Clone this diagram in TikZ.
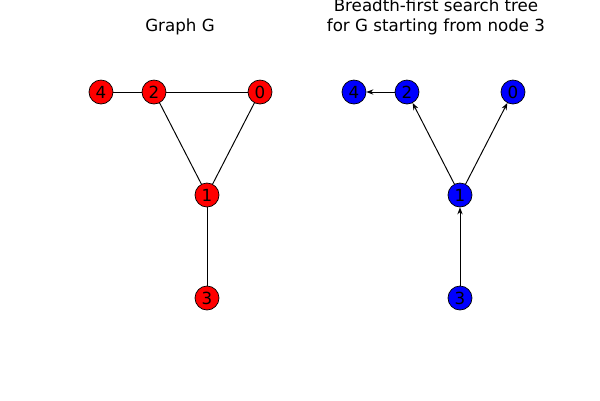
\documentclass[tikz,border=0pt]{standalone}
\usepackage{fontspec}
\setmainfont{DejaVu Sans}
\usetikzlibrary{arrows.meta}
\begin{document}
\begin{tikzpicture}[x=.02cm,y=-.02cm,
  vred/.style={circle,draw,fill=red,minimum size=.48cm,inner sep=0pt,font=\fontsize{9.5}{11}\selectfont},
  vblue/.style={circle,draw,fill=blue,minimum size=.48cm,inner sep=0pt,font=\fontsize{9.5}{11}\selectfont},
  edge/.style={draw,line width=.55pt},
  tedge/.style={draw,line width=.55pt,-{Stealth[length=4pt,width=3pt]}},
  title/.style={align=center,font=\fontsize{9.5}{11.3}\selectfont}]
  \useasboundingbox (0,0) rectangle (600,400);
  % graph G
  \node[title] (tg) at (180,27) {Graph G};
  \node[vred] (a4) at (101,92) {4};
  \node[vred] (a2) at (154,92) {2};
  \node[vred] (a0) at (260,92) {0};
  \node[vred] (a1) at (207,195) {1};
  \node[vred] (a3) at (207,298) {3};
  \path[edge] (a4) -- (a2);
  \path[edge] (a2) -- (a0);
  \path[edge] (a2) -- (a1);
  \path[edge] (a0) -- (a1);
  \path[edge] (a1) -- (a3);
  % bfs tree
  \node[title] (tb) at (436,17) {Breadth-first search tree\\for G starting from node 3};
  \node[vblue] (b4) at (354,92) {4};
  \node[vblue] (b2) at (407,92) {2};
  \node[vblue] (b0) at (513,92) {0};
  \node[vblue] (b1) at (460,195) {1};
  \node[vblue] (b3) at (460,298) {3};
  \path[tedge] (b2) -- (b4);
  \path[tedge] (b1) -- (b2);
  \path[tedge] (b1) -- (b0);
  \path[tedge] (b3) -- (b1);
\end{tikzpicture}
\end{document}
